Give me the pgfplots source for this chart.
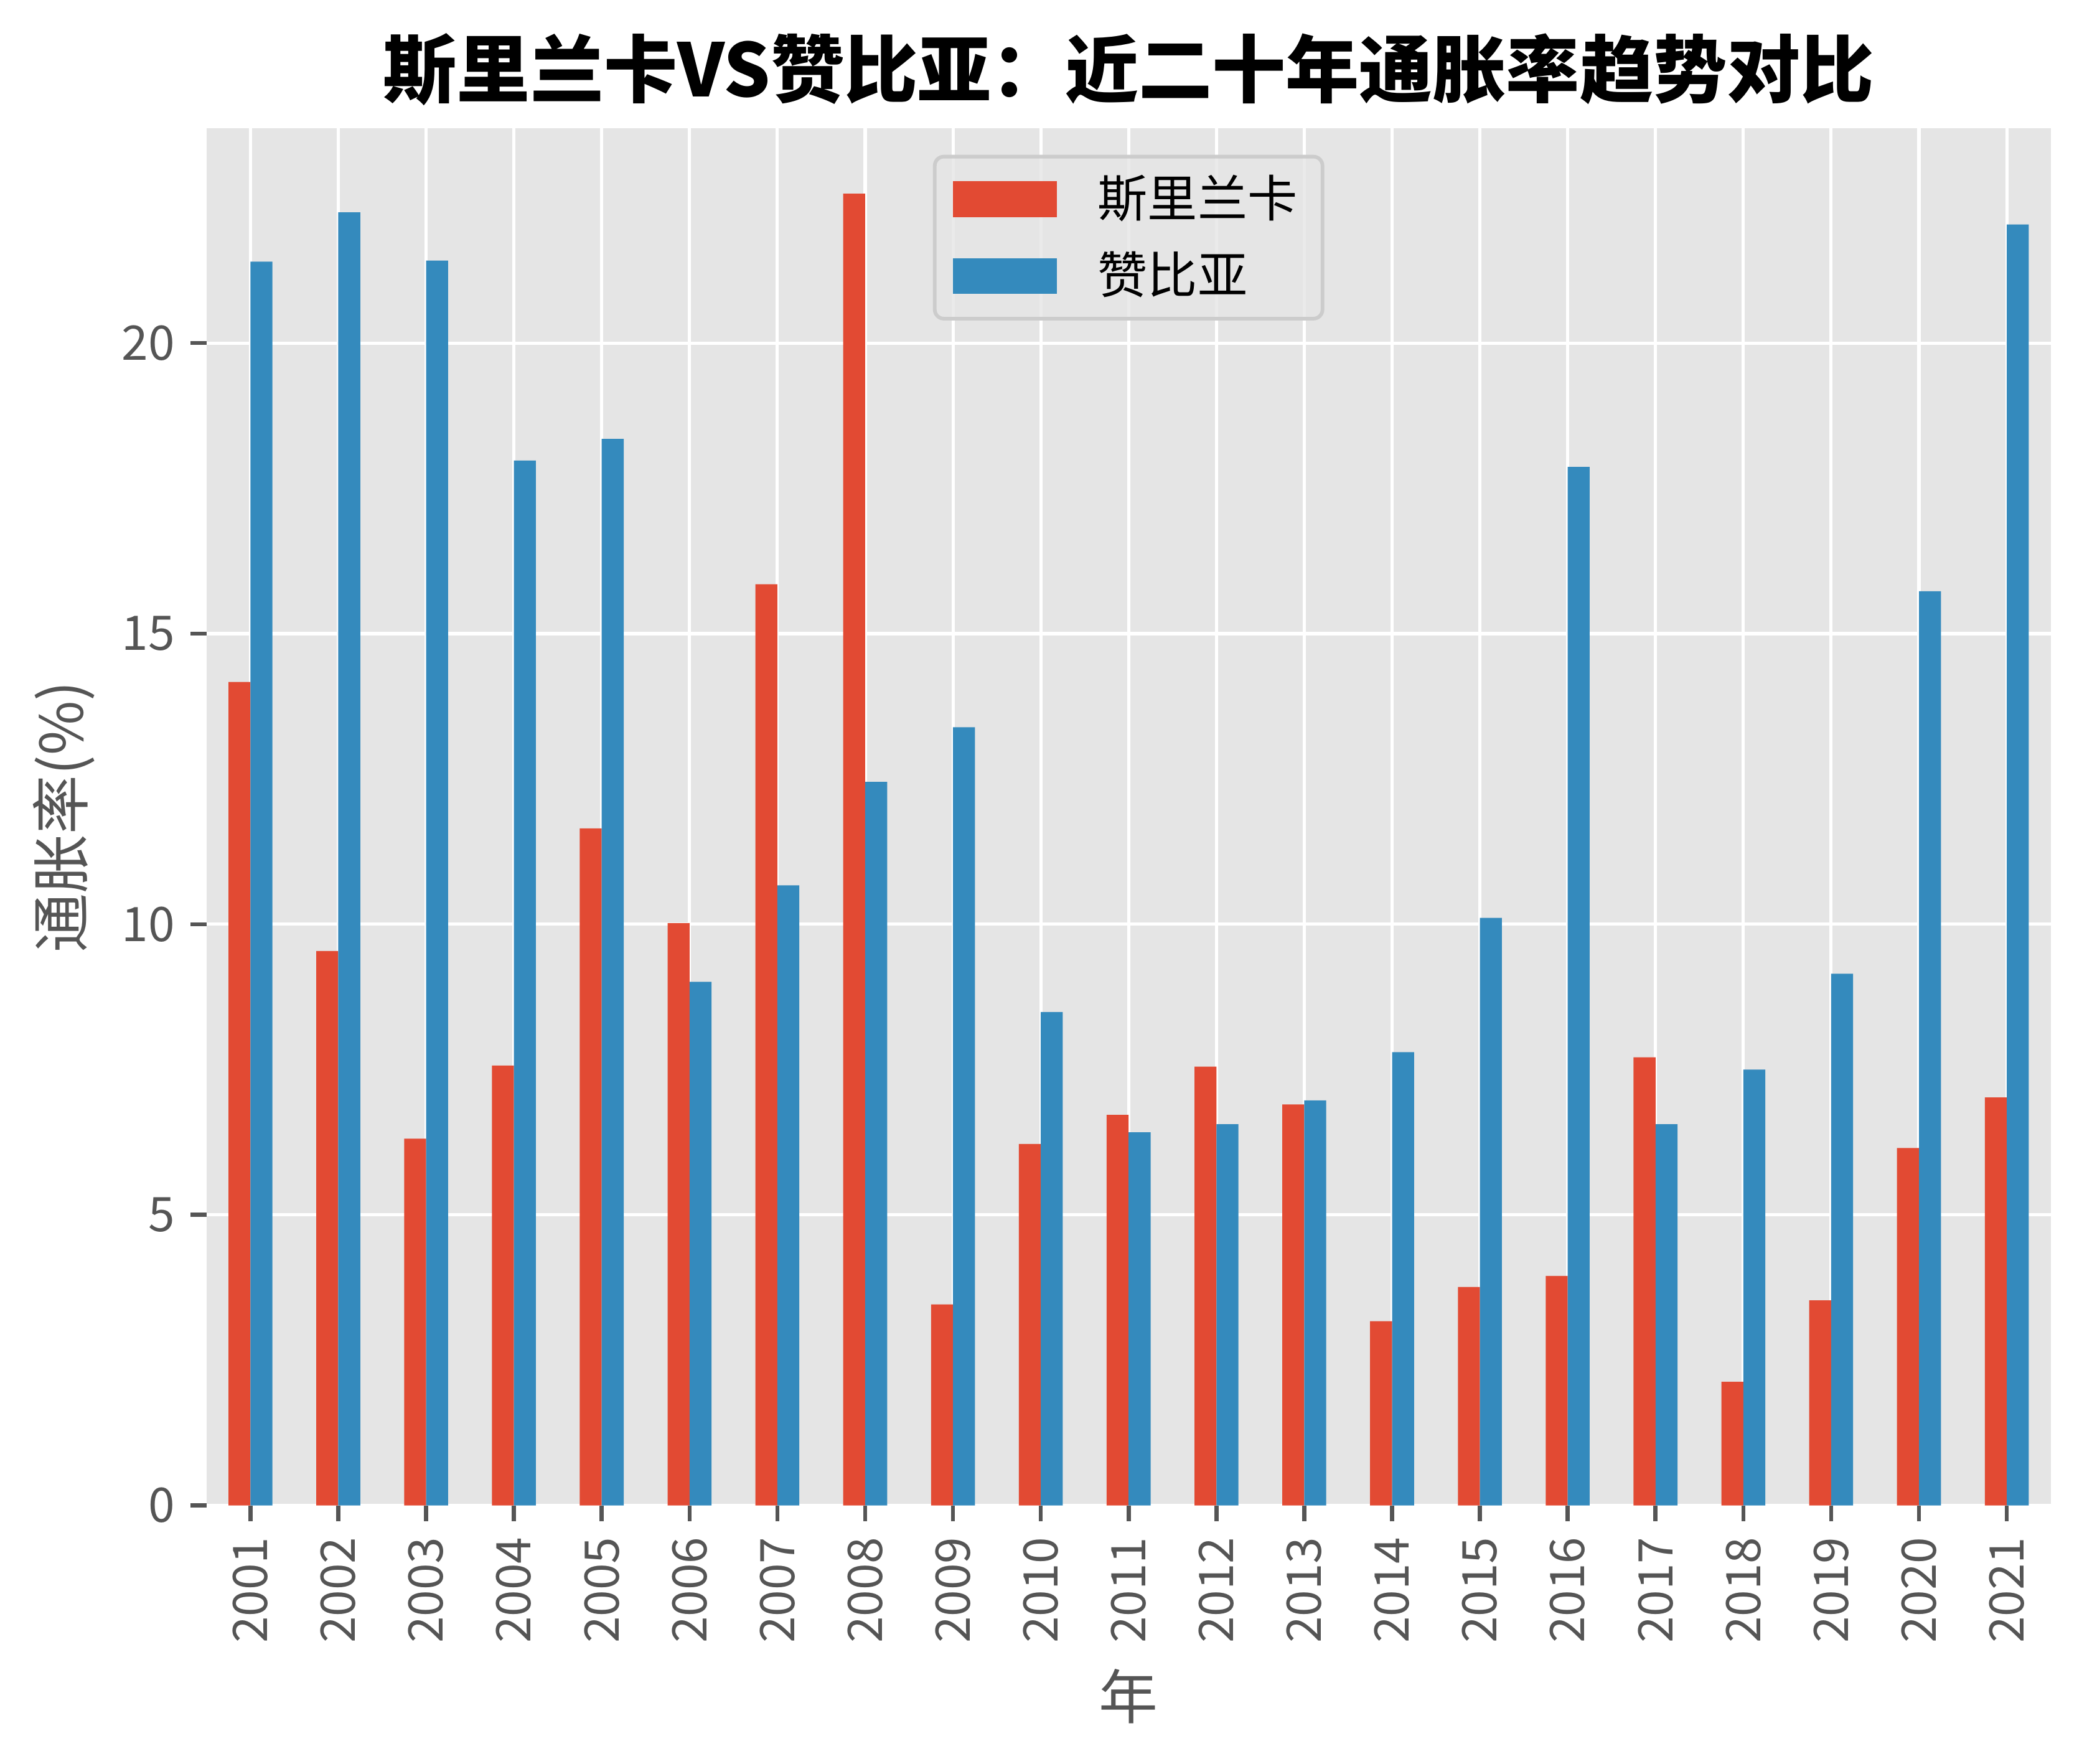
\documentclass[border=0pt]{standalone}
\usepackage{pgfplots}
\pgfplotsset{compat=1.18}
\usepackage{fontspec}
\setmainfont{Noto Sans CJK SC}
\usetikzlibrary{calc}

\definecolor{srilanka}{HTML}{E24A33}
\definecolor{zambia}{HTML}{348ABD}
\definecolor{panel}{HTML}{E5E5E5}
\definecolor{labelgray}{HTML}{555555}
\definecolor{legendedge}{HTML}{CCCCCC}

% inflation rate (%), 2001--2021, plotted at x = 0..20
\pgfplotstableread{
x srilanka zambia
0  14.17 21.40
1   9.54 22.25
2   6.31 21.42
3   7.57 17.98
4  11.65 18.35
5  10.02  9.01
6  15.85 10.67
7  22.57 12.45
8   3.46 13.39
9   6.22  8.49
10  6.72  6.42
11  7.55  6.56
12  6.90  6.97
13  3.17  7.80
14  3.76 10.11
15  3.95 17.87
16  7.71  6.56
17  2.13  7.50
18  3.53  9.15
19  6.15 15.73
20  7.02 22.04
}\inflation

\begin{document}
\begin{tikzpicture}
\begin{axis}[
  name=ax,
  scale only axis,
  width=406.2pt, height=303.4pt,
  xmin=-0.5, xmax=20.5,
  ymin=0, ymax=23.7,
  ybar, bar width=0.25,
  axis background/.style={fill=panel},
  axis line style={draw=none},
  grid=major,
  major grid style={white, line width=0.7pt},
  tick pos=left,
  tick align=outside,
  major tick length=3.5pt,
  tick style={labelgray, line width=0.9pt},
  xtick={0,...,20},
  xticklabels={2001,2002,2003,2004,2005,2006,2007,2008,2009,2010,2011,2012,2013,2014,2015,2016,2017,2018,2019,2020,2021},
  ytick={0,5,10,15,20},
  /pgf/number format/assume math mode=true,
  xticklabel style={rotate=90, anchor=east, font=\fontsize{10.5}{12}\selectfont, text=labelgray},
  yticklabel style={font=\fontsize{10.5}{12}\selectfont, text=labelgray},
  title={斯里兰卡VS赞比亚：近二十年通胀率趋势对比},
  title style={at={(axis description cs:0.5,1)}, anchor=center, yshift=6.9pt,
    font=\bfseries\fontsize{16.2}{19}\selectfont, text=black},
  xlabel={年},
  ylabel={通胀率(\%)},
  xlabel style={at={(axis description cs:0.5,-0.1384)}, anchor=center,
    font=\fontsize{13}{15}\selectfont, text=labelgray},
  ylabel style={at={(axis description cs:-0.0773,0.5)}, anchor=center, rotate=0,
    font=\fontsize{13}{15}\selectfont, text=labelgray},
  legend image code/.code={\fill[#1, sharp corners, draw=none, fill opacity=1] (0pt,-3.95pt) rectangle (22.9pt,3.95pt);},
  legend cell align=left,
  legend style={
    at={(axis description cs:0.5,1)}, anchor=north, yshift=-5.9pt,
    fill=panel, fill opacity=0.8, text opacity=1, draw=legendedge, draw opacity=1,
    line width=0.8pt, rounded corners=2pt,
    font=\fontsize{11}{13}\selectfont,
    inner xsep=4pt, inner ysep=2.5pt, row sep=3.2pt,
    nodes={inner sep=1.5pt},
    /tikz/every odd column/.append style={column sep=7.5pt},
  },
]
\addplot[fill=srilanka, draw=none, bar shift=-0.125] table[x=x, y=srilanka] {\inflation};
\addlegendentry{斯里兰卡}
\addplot[fill=zambia, draw=none, bar shift=0.125] table[x=x, y=zambia] {\inflation};
\addlegendentry{赞比亚}
\end{axis}
\pgfresetboundingbox
\path[use as bounding box] ($(ax.south west)+(-45.5pt,-56.9pt)$) rectangle ($(ax.north east)+(9.1pt,28.2pt)$);
\end{tikzpicture}
\end{document}
